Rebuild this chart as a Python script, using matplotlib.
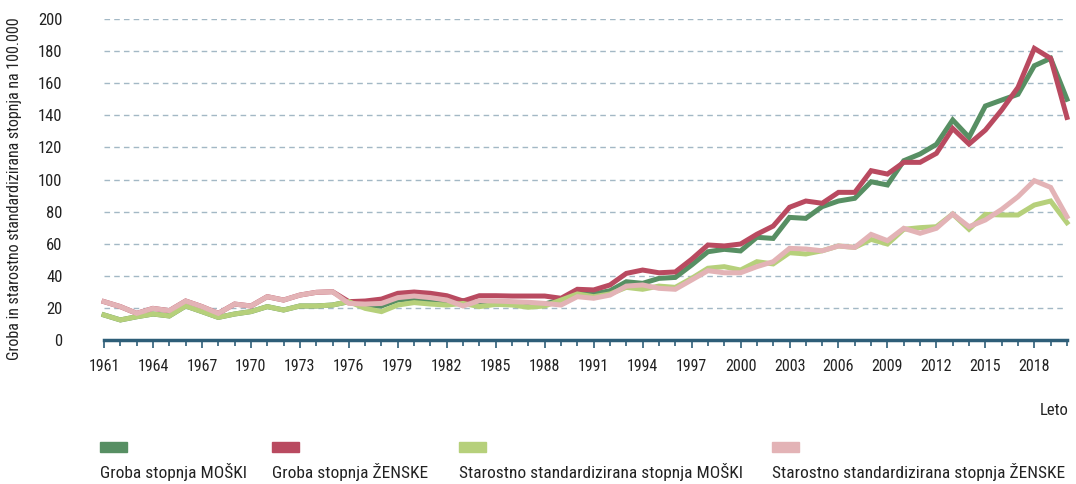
import matplotlib
matplotlib.use("Agg")
import matplotlib.pyplot as plt
from matplotlib import font_manager
from matplotlib.patches import Rectangle
from matplotlib.ticker import MultipleLocator

years = list(range(1961, 2021))

groba_moski = [15.6, 12.5, 14.5, 16.2, 15.0, 21.2, 17.7, 14.1, 16.2, 17.7,
               20.8, 18.7, 21.2, 21.2, 21.8, 23.9, 21.8, 21.2, 24.9, 25.9,
               24.9, 23.9, 24.5, 22.8, 22.4, 22.4, 22.4, 22.4, 25.3, 29.5,
               28.7, 30.7, 36.3, 35.3, 38.4, 39.0, 46.7, 55.0, 56.5, 55.5,
               64.0, 63.3, 76.4, 75.8, 83.1, 86.6, 88.3, 98.6, 96.6, 111.7,
               115.9, 121.9, 137.1, 126.3, 145.8, 149.5, 153.1, 170.9, 175.5, 150.0]
groba_zenske = [23.9, 20.8, 16.6, 19.7, 18.3, 24.3, 20.8, 16.6, 22.4, 21.2,
                27.0, 24.9, 28.0, 29.7, 30.1, 23.9, 24.3, 25.5, 29.1, 29.9,
                29.1, 27.6, 24.3, 27.6, 27.6, 27.4, 27.4, 27.4, 26.0, 31.6,
                31.2, 34.3, 41.5, 43.6, 41.9, 42.4, 50.3, 59.2, 58.6, 59.8,
                65.9, 71.0, 82.7, 86.6, 85.2, 92.0, 92.0, 105.5, 103.4, 110.7,
                110.7, 116.3, 131.8, 122.1, 130.8, 143.3, 157.4, 181.7, 175.5, 138.7]
std_moski = [15.6, 12.5, 14.5, 16.2, 15.0, 21.2, 17.7, 14.1, 16.2, 17.7,
             20.8, 18.7, 21.2, 21.2, 21.8, 23.9, 19.7, 17.7, 21.8, 23.3,
             22.4, 21.8, 22.8, 20.8, 22.2, 21.8, 20.4, 21.2, 24.9, 28.7,
             27.0, 28.7, 32.8, 31.6, 33.6, 32.8, 38.4, 44.7, 45.7, 43.6,
             48.8, 47.4, 54.4, 53.6, 55.6, 58.6, 57.7, 62.7, 59.8, 69.0,
             70.0, 70.6, 78.5, 69.0, 78.3, 77.9, 77.9, 84.1, 86.6, 73.1]
std_zenske = [23.9, 20.8, 16.6, 19.7, 18.3, 24.3, 20.8, 16.6, 22.4, 21.2,
              27.0, 24.9, 28.0, 29.7, 30.1, 22.8, 22.4, 22.8, 26.4, 27.4,
              26.4, 24.9, 21.2, 24.5, 24.3, 23.9, 23.5, 22.8, 21.8, 27.0,
              26.0, 28.0, 33.6, 34.3, 32.2, 31.6, 37.4, 43.2, 41.9, 41.9,
              45.7, 48.8, 57.1, 56.7, 55.6, 58.6, 57.7, 65.8, 61.9, 69.6,
              66.5, 69.6, 78.5, 70.6, 74.8, 81.4, 89.3, 99.3, 95.1, 76.8]

labels = ["Groba stopnja MOŠKI", "Groba stopnja ŽENSKE",
          "Starostno standardizirana stopnja MOŠKI",
          "Starostno standardizirana stopnja ŽENSKE"]
colors = ["#578f63", "#b94a60", "#b6d07b", "#e3b3b6"]

installed = {f.name for f in font_manager.fontManager.ttflist}
family = "DejaVu Sans"
for name in ["Roboto Condensed", "Liberation Sans Narrow", "Open Sans Condensed"]:
    if name in installed:
        family = name
        break
plt.rcParams["font.family"] = [family, "DejaVu Sans"]

axis_col = "#2e5e78"
text_col = "#222222"

fig = plt.figure(figsize=(10.76, 4.84), dpi=100)
ax = fig.add_axes([0.0967, 0.2975, 0.8949, 0.6632])

for vals, col in zip([groba_moski, groba_zenske, std_moski, std_zenske], colors):
    ax.plot(years, vals, color=col, lw=3.6, solid_joinstyle="miter", clip_on=False, zorder=3)

ax.set_xlim(1961, 2020)
ax.set_ylim(0, 200)
ax.yaxis.set_major_locator(MultipleLocator(20))
ax.xaxis.set_minor_locator(MultipleLocator(1))
ax.set_xticks(list(range(1961, 2020, 3)))

ax.grid(axis="y", color="#a3b8c5", lw=1.0, linestyle=(0, (4, 3)))
ax.set_axisbelow(True)
for s in ["top", "right", "left"]:
    ax.spines[s].set_visible(False)
ax.spines["bottom"].set_color(axis_col)
ax.spines["bottom"].set_linewidth(2.5)
ax.spines["bottom"].set_zorder(4)

ax.tick_params(axis="y", length=0, pad=30, labelsize=12, labelcolor=text_col)
ax.tick_params(axis="x", which="major", length=6, width=1.2, color=axis_col,
               pad=8, labelsize=11.5, labelcolor=text_col)
ax.tick_params(axis="x", which="minor", length=4, width=1.2, color=axis_col)

ax.set_ylabel("Groba in starostno standardizirana stopnja na 100.000",
              fontsize=11.5, color=text_col, labelpad=12)
ax.yaxis.set_label_coords(-0.085, 0.47)

fig.text(0.993, 0.152, "Leto", ha="right", va="center", fontsize=12, color=text_col)

# legend: swatch on top, label underneath
leg_x = [100, 272, 459, 772]
for x, lab, col in zip(leg_x, labels, colors):
    fig.patches.append(Rectangle((x / 1076, 1 - 452 / 484), 27 / 1076, 10 / 484,
                                 transform=fig.transFigure, color=col))
    fig.text(x / 1076, 1 - 472 / 484, lab, ha="left", va="center",
             fontsize=12.5, color=text_col)

fig.savefig("out.png", dpi=100)
